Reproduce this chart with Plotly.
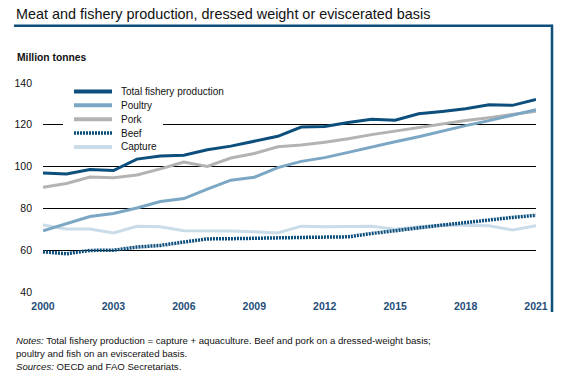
import plotly.graph_objects as go

years = list(range(2000, 2022))
total_fishery = [96.9, 96.5, 98.6, 98.1, 103.6, 105.1, 105.4, 108.1, 109.8, 112.2, 114.5,
                 118.9, 119.2, 121.1, 122.7, 122.2, 125.3, 126.4, 127.7, 129.6, 129.3, 132.1]
poultry = [69.3, 72.6, 76.1, 77.6, 80.2, 83.3, 84.7, 89.2, 93.5, 94.9, 99.5,
           102.5, 104.3, 106.8, 109.5, 111.9, 114.3, 117.0, 119.6, 122.0, 124.5, 127.2]
pork = [90.1, 91.9, 95.0, 94.7, 96.0, 98.9, 102.2, 100.1, 104.1, 106.3, 109.5,
        110.3, 111.7, 113.3, 115.3, 117.0, 118.6, 120.2, 122.1, 123.4, 124.8, 126.5]
beef = [59.2, 58.3, 59.9, 60.0, 61.5, 62.3, 63.9, 65.4, 65.5, 65.5, 65.9,
        66.1, 66.2, 66.4, 68.0, 69.4, 70.9, 72.0, 73.2, 74.6, 75.7, 76.7]
capture = [72.1, 70.1, 70.1, 68.2, 71.4, 71.2, 69.3, 69.3, 69.2, 68.8, 68.2,
           71.5, 71.2, 71.3, 71.5, 70.0, 71.2, 72.0, 72.0, 71.7, 69.7, 71.7]

x_ticks = [2000, 2003, 2006, 2009, 2012, 2015, 2018, 2021]
y_ticks = [40, 60, 80, 100, 120, 140]

DARK = "#0d4f7c"
series = [
    ("Capture", capture, "#c9dce8", "solid", 3),
    ("Pork", pork, "#b3b3b3", "solid", 3),
    ("Poultry", poultry, "#7ba7c4", "solid", 3),
    ("Beef", beef, DARK, "2px,1px", 3.5),
    ("Total fishery production", total_fishery, DARK, "solid", 3),
]
legend_order = ["Total fishery production", "Poultry", "Pork", "Beef", "Capture"]

W, H = 563, 387
L, R, T, B = 43, 27, 82.5, 95
pw, ph = W - L - R, H - T - B

fig = go.Figure()
for name, vals, col, dash, w in series:
    fig.add_trace(go.Scatter(x=years, y=vals, mode="lines", name=name,
                             line=dict(color=col, width=w, dash=dash),
                             showlegend=False, hoverinfo="skip"))

def px2dx(px):
    return (px - L) / pw

def py2dy(py):
    return (H - B - py) / ph

shapes = []
annotations = []
# white legend background covering gridlines
shapes.append(dict(type="rect", xref="paper", yref="paper", layer="above",
                   x0=px2dx(63), x1=px2dx(163), y0=py2dy(150), y1=py2dy(86),
                   fillcolor="white", line=dict(width=0)))
style = {name: (col, dash, w) for name, vals, col, dash, w in series}
for i, name in enumerate(legend_order):
    yy = 91 + i * 13.9
    col, dash, w = style[name]
    shapes.append(dict(type="line", xref="paper", yref="paper", layer="above",
                       x0=px2dx(74), x1=px2dx(112), y0=py2dy(yy), y1=py2dy(yy),
                       line=dict(color=col, width=w + 1 if name != "Beef" else w, dash=dash)))
    annotations.append(dict(text=name, xref="paper", yref="paper",
                            x=px2dx(119), y=py2dy(yy), xanchor="left", yanchor="middle",
                            showarrow=False, font=dict(size=10, color="#111111")))

# frame lines (paper)
shapes.append(dict(type="line", xref="paper", yref="paper", layer="above",
                   x0=px2dx(14), x1=px2dx(553), y0=py2dy(25), y1=py2dy(25),
                   line=dict(color=DARK, width=2.5)))
shapes.append(dict(type="line", xref="paper", yref="paper", layer="above",
                   x0=px2dx(552), x1=px2dx(552), y0=py2dy(24), y1=py2dy(312),
                   line=dict(color=DARK, width=2.5)))

annotations.append(dict(text="Meat and fishery production, dressed weight or eviscerated basis",
                        xref="paper", yref="paper", x=px2dx(14), y=py2dy(13),
                        xanchor="left", yanchor="middle", showarrow=False,
                        font=dict(size=14.4, color="#111111")))
annotations.append(dict(text="<b>Million tonnes</b>", xref="paper", yref="paper",
                        x=px2dx(15), y=py2dy(57), xanchor="left", yanchor="middle",
                        showarrow=False, font=dict(size=10.3, color="#111111")))
notes = ["<i>Notes:</i> Total fishery production = capture + aquaculture. Beef and pork on a dressed-weight basis;",
         "poultry and fish on an eviscerated basis.",
         "<i>Sources:</i> OECD and FAO Secretariats."]
for i, line in enumerate(notes):
    annotations.append(dict(text=line, xref="paper", yref="paper",
                            x=px2dx(14), y=py2dy(341 + i * 12.8), xanchor="left",
                            yanchor="middle", showarrow=False,
                            font=dict(size=9.6, color="#111111")))

fig.update_layout(
    width=W, height=H,
    margin=dict(l=L, r=R, t=T, b=B, autoexpand=False),
    paper_bgcolor="white", plot_bgcolor="white",
    font=dict(family="Liberation Sans, Arial, sans-serif"),
    shapes=shapes, annotations=annotations,
    showlegend=False,
    xaxis=dict(range=[2000, 2021], tickvals=x_ticks, ticktext=[f"<b>{v}</b>" for v in x_ticks],
               showgrid=False, zeroline=False, showline=False, automargin=False,
               tickfont=dict(size=10.5, color="#1f4e79"), ticks="", ticklabelstandoff=6),
    yaxis=dict(range=[40, 140], tickvals=y_ticks, showgrid=True, gridcolor="#000000",
               gridwidth=1, zeroline=False, showline=False, automargin=False,
               tickfont=dict(size=10.5, color="#111111"), ticks="", ticklabelstandoff=10),
)

fig.write_html("out.html", config={"displayModeBar": False, "staticPlot": True},
               post_script="document.body.style.margin='0';")
